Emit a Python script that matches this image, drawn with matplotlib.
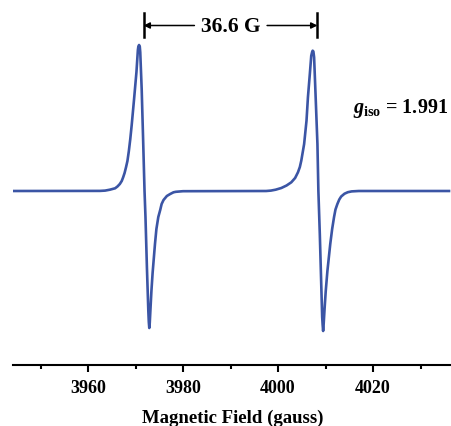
import matplotlib
matplotlib.use("Agg")
import matplotlib.pyplot as plt
from matplotlib.ticker import MultipleLocator

# EPR spectrum (field in gauss, intensity in arb. units)
field = [3944.2, 3962.5, 3963.6, 3964.6, 3965.7, 3966.2, 3966.7, 3967.1, 3967.4, 3967.7,
         3968.0, 3968.3, 3968.6, 3968.9, 3969.2, 3969.7, 3970.2, 3970.5, 3970.6, 3970.75,
         3970.9, 3971.0, 3971.3, 3971.6, 3971.9, 3972.1, 3972.4, 3972.7, 3972.8,
         3972.9, 3973.0, 3973.15, 3973.35, 3973.6, 3974.1, 3974.4, 3974.8, 3975.2, 3975.5,
         3975.9, 3976.6, 3977.3, 3978.0, 3978.5, 3980.0,
         3997.5, 3998.5, 3999.5, 4000.7, 4001.8, 4002.8, 4003.6, 4004.2, 4004.6, 4004.9,
         4005.5, 4006.0, 4006.3, 4006.7, 4007.0, 4007.2, 4007.3, 4007.45, 4007.6,
         4007.9, 4008.3, 4008.5, 4008.8, 4009.1, 4009.3, 4009.4, 4009.5, 4009.6,
         4009.8, 4010.05, 4010.4, 4011.0, 4011.4, 4011.8, 4012.1, 4012.5, 4012.9, 4013.3,
         4014.0, 4014.7, 4015.5, 4017.0, 4036.0]
signal = [0, 0.1, 0.4, 1.3, 2.7, 4.5, 7, 10, 13.7, 18,
          23.7, 30, 40, 52, 66, 92, 119, 141, 144.5, 146,
          144.5, 138.7, 102, 52, 0, -26, -76, -120, -131,
          -137, -132, -118, -100, -82, -53, -38, -26, -19, -13,
          -9, -5, -3, -1.3, -0.8, -0.2,
          0, 0.4, 1.3, 3, 5.5, 8.7, 13, 18.7, 24, 30.3,
          47, 70.3, 93.7, 117, 135.3, 139.3, 140.3, 139.5, 133.7,
          97, 47, 0, -43, -93, -126, -134, -140, -134,
          -118, -100, -80, -53, -38, -26, -18.5, -13, -8.5, -5.5,
          -2.7, -1.2, -0.4, 0, 0]

line_pos = [3971.7, 4008.3]
splitting_label = "36.6 G"
g_iso = "1.991"

plt.rcParams['font.family'] = ['Liberation Serif', 'DejaVu Serif']
plt.rcParams['font.weight'] = 'bold'
plt.rcParams['mathtext.fontset'] = 'custom'
plt.rcParams['mathtext.rm'] = 'Liberation Serif:bold'
plt.rcParams['mathtext.it'] = 'Liberation Serif:italic:bold'
plt.rcParams['mathtext.bf'] = 'Liberation Serif:bold'

fig = plt.figure(figsize=(4.52, 4.27), dpi=100)
ax = fig.add_axes([13 / 452, 61 / 427, 439 / 452, 366 / 427])

ax.plot(field, signal, color='#3B55A5', lw=1.9, solid_joinstyle='round')

ax.set_xlim(3944.21, 4036.63)
ax.set_ylim(-174, 192)

for s in ['left', 'right', 'top']:
    ax.spines[s].set_visible(False)
ax.spines['bottom'].set_linewidth(1.5)
ax.set_yticks([])
ax.xaxis.set_major_locator(MultipleLocator(20))
ax.xaxis.set_minor_locator(MultipleLocator(10))
ax.tick_params(axis='x', which='major', length=5, width=1.5, pad=5, labelsize=13)
ax.tick_params(axis='x', which='minor', length=3, width=1.5)
for t in ax.get_xticklabels():
    t.set_fontweight('bold')

ax.set_xlabel('Magnetic Field (gauss)', fontsize=13.5, fontweight='bold')
ax.xaxis.set_label_coords(0.5, -0.118)

# splitting bracket
for xp in line_pos:
    ax.plot([xp, xp], [154, 178], color='black', lw=1.8, clip_on=False)
mid = sum(line_pos) / 2
ax.text(mid, 165.5, splitting_label, ha='center', va='center', fontsize=15.5, fontweight='bold')
arrow = dict(arrowstyle='-|>', color='black', lw=1.1, mutation_scale=9, shrinkA=0, shrinkB=0)
ax.annotate('', xy=(line_pos[0], 165.5), xytext=(3982.4, 165.5), arrowprops=arrow, annotation_clip=False)
ax.annotate('', xy=(line_pos[1], 165.5), xytext=(3997.7, 165.5), arrowprops=arrow, annotation_clip=False)

ax.text(4015.7, 84, r'$g_{\mathrm{iso}}$' + ' = ' + g_iso, ha='left', va='center',
        fontsize=14.5, fontweight='bold')

fig.savefig('out.png', dpi=100)
